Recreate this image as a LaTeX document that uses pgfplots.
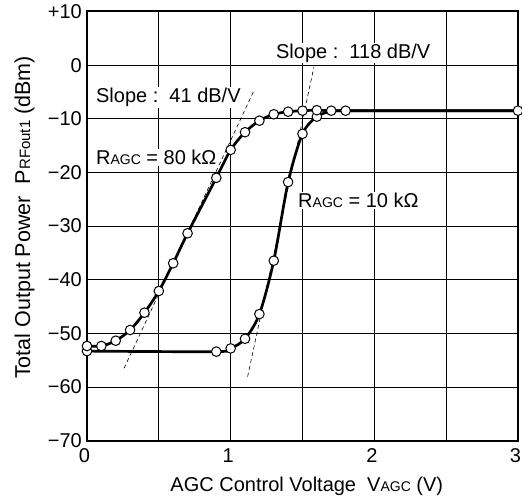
\documentclass[border=0pt]{standalone}
\usepackage{pgfplots}
\pgfplotsset{compat=1.18}
\usepackage{fontspec}
\setmainfont{Liberation Sans}
\newcommand{\sub}[1]{{\fontsize{14bp}{14bp}\selectfont #1}}
\newcommand{\bigfont}{\fontsize{20bp}{24bp}\selectfont}
\begin{document}
\begin{tikzpicture}
\begin{axis}[
 name=ax,
 scale only axis, width=431bp, height=429.2bp,
 xmin=0,xmax=3,ymin=-70,ymax=10,
 xtick={0,1,2,3}, minor xtick={0.5,1.5,2.5},
 ytick={-70,-60,-50,-40,-30,-20,-10,0,10},
 yticklabels={−70,−60,−50,−40,−30,−20,−10,0,+10},
 xticklabels={0,1,2,3},
 grid=both,
 major grid style={black, line width=0.8bp},
 minor grid style={black, line width=0.8bp},
 major tick length=0pt, minor tick length=0pt,
 axis line style={line width=2bp},
 tick label style={font=\bigfont},
 yticklabel style={anchor=east, inner sep=0pt, xshift=-5bp},
 xticklabel style={anchor=north, inner sep=0pt, yshift=-8bp, xshift=-2.5bp},
 label style={font=\bigfont},
 xlabel={AGC Control Voltage\ \ V\sub{AGC} (V)},
 ylabel={\fontsize{21.5bp}{24bp}\selectfont Total Output Power\ \ P{\fontsize{15bp}{15bp}\selectfont RFout1} (dBm)},
 xlabel style={at={(rel axis cs:0.51,-0.106)}, anchor=center},
 ylabel style={at={(rel axis cs:-0.145,0.52)}, anchor=center},
 clip=false,
]
% slope lines
\addplot[black, line width=0.6bp, dash pattern=on 4bp off 3bp] coordinates {(0.258,-56.5) (1.164,-4.63)};
\addplot[black, line width=0.6bp, dash pattern=on 4bp off 3bp] coordinates {(1.118,-58.07) (1.58,-0.29)};
% R_AGC = 10 kOhm
\addplot[black, line width=2.7bp, smooth, tension=0.5, mark=*, mark size=4.8bp,
  mark options={fill=white, draw=black, line width=1bp, solid}, mark indices={1,2,3,4,5,6,7,8,9}]
 coordinates {(0,-53.3) (0.9,-53.4) (1.0,-52.8) (1.1,-51.0) (1.2,-46.4) (1.3,-36.45) (1.4,-21.8) (1.5,-12.8) (1.6,-9.6) (1.7,-8.6) (1.8,-8.5) (3.0,-8.5)};
% R_AGC = 80 kOhm
\addplot[black, line width=2.7bp, smooth, tension=0.5, mark=*, mark size=4.8bp,
  mark options={fill=white, draw=black, line width=1bp, solid}]
 coordinates {(0,-52.35) (0.1,-52.35) (0.2,-51.36) (0.3,-49.37) (0.4,-46.14) (0.5,-42.1) (0.6,-36.93) (0.7,-31.34) (0.9,-21.0) (1.0,-15.8) (1.1,-12.5) (1.2,-10.35) (1.3,-9.16) (1.4,-8.68) (1.5,-8.49) (1.6,-8.4) (1.7,-8.49) (1.8,-8.49) (3.0,-8.49)};
\node[anchor=base west, fill=white, inner sep=1bp, font=\bigfont] at (axis cs:0.055,-7.0) {Slope :\ \ 41 dB/V};
\node[anchor=base west, fill=white, inner sep=1bp, font=\bigfont] at (axis cs:1.308,1.28) {Slope :\ \ 118 dB/V};
\node[anchor=base west, fill=white, inner sep=1bp, font=\bigfont] at (axis cs:0.055,-18.6) {R\sub{AGC} = 80 kΩ};
\node[anchor=base west, fill=white, inner sep=1bp, font=\bigfont] at (axis cs:1.462,-26.6) {R\sub{AGC} = 10 kΩ};
\end{axis}
\pgfresetboundingbox
\path ([xshift=-87bp,yshift=-58.3bp]ax.south west) rectangle ([xshift=4bp,yshift=11.5bp]ax.north east);
\end{tikzpicture}
\end{document}
